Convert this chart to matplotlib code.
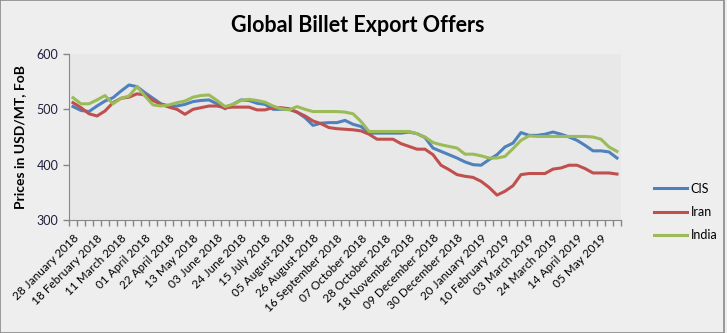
import numpy as np
import matplotlib.pyplot as plt
from matplotlib.patches import Rectangle

plt.rcParams['font.family'] = ['Lato', 'DejaVu Sans']

# weekly offers, 28 Jan 2018 .. 19 May 2019 (USD/MT FoB)
cis = [505, 498, 496, 506, 515, 521, 533, 544, 541, 530, 520, 510, 506, 506, 509,
       514, 516, 517, 510, 501, 509, 517, 516, 511, 509, 500, 500, 500, 495, 485,
       471, 475, 476, 476, 480, 473, 469, 457, 457, 457, 457, 457, 459, 456, 449,
       430, 424, 418, 412, 405, 400, 399, 409, 418, 432, 439, 458, 453, 453, 455,
       459, 455, 450, 444, 435, 425, 425, 423, 412]
iran = [512, 503, 492, 488, 497, 512, 520, 522, 528, 526, 516, 509, 504, 500, 491,
        500, 503, 506, 506, 503, 504, 504, 504, 499, 499, 503, 503, 501, 495, 488,
        479, 474, 467, 465, 464, 463, 461, 455, 446, 446, 446, 438, 433, 428, 428,
        418, 399, 391, 382, 379, 377, 370, 359, 345, 352, 362, 382, 384, 384, 384,
        392, 394, 399, 399, 393, 385, 385, 385, 383]
india = [521, 510, 510, 517, 525, 510, 520, 524, 541, 524, 508, 506, 508, 512, 515,
         522, 525, 526, 516, 505, 509, 516, 518, 516, 513, 506, 501, 499, 505, 500,
         496, 496, 496, 496, 495, 492, 478, 460, 460, 460, 460, 460, 460, 456, 450,
         440, 436, 433, 430, 419, 419, 416, 412, 412, 415, 429, 444, 452, 451, 451,
         451, 451, 451, 451, 451, 450, 446, 432, 424]

tick_labels = ["28 January 2018", "18 February 2018", "11 March 2018", "01 April 2018",
               "22 April 2018", "13 May 2018", "03 June 2018", "24 June 2018",
               "15 July 2018", "05 August 2018", "26 August 2018", "16 September 2018",
               "07 October 2018", "28 October 2018", "18 November 2018",
               "09 December 2018", "30 December 2018", "20 January 2019",
               "10 February 2019", "03 March 2019", "24 March 2019", "14 April 2019",
               "05 May 2019"]

fig = plt.figure(figsize=(7.27, 3.33), dpi=100, facecolor='#eeeeee')
ax = fig.add_axes([69/727, 1-220/333, (621-69)/727, (220-54)/333])
ax.set_facecolor('#e8e8e8')

x = np.arange(len(cis))
ax.plot(x, cis, color='#4f81bd', lw=2.2, label='CIS')
ax.plot(x, iran, color='#c0504d', lw=2.2, label='Iran')
ax.plot(x, india, color='#9bbb59', lw=2.2, label='India')

ax.set_xlim(-0.5, len(cis) - 0.5)
ax.set_ylim(300, 600)
ax.set_yticks([300, 400, 500, 600])

ax.set_xticks(np.arange(0, len(tick_labels) * 3, 3))
ax.set_xticklabels(tick_labels, rotation=45, ha='right', rotation_mode='anchor', fontsize=8.5)
ax.set_xticks(np.arange(-0.5, len(cis), 1), minor=True)
ax.tick_params(axis='x', which='major', length=0, pad=9)
ax.tick_params(axis='x', which='minor', length=4, color='#868686', width=1)
ax.tick_params(axis='y', length=4, color='#868686', width=1, labelsize=9, labelcolor='#1f1f3f')

for s in ['top', 'right']:
    ax.spines[s].set_visible(False)
for s in ['left', 'bottom']:
    ax.spines[s].set_color('#868686')

ax.set_ylabel("Prices in USD/MT, FoB", fontsize=10, fontweight='bold', labelpad=8)
fig.text(358/727, 1-25/333, "Global Billet Export Offers", ha='center', va='center',
         fontsize=15.5, fontweight='bold')

fig.legend(loc='center left', bbox_to_anchor=(643/727, 1-212/333), frameon=False,
           fontsize=9, handlelength=2.6, labelspacing=0.9, handletextpad=0.3)

fig.patches.append(Rectangle((0, 0), 1-3/727, 1, transform=fig.transFigure,
                             fill=False, edgecolor='#8a8a8a', lw=1.2))

fig.savefig('out.png', dpi=100, facecolor=fig.get_facecolor())
